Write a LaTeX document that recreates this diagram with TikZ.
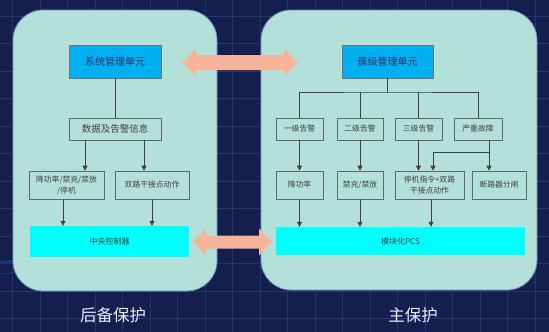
\documentclass[tikz,border=0pt]{standalone}
\usepackage{fontspec}
\setmainfont{Noto Sans CJK SC}
\usetikzlibrary{arrows.meta}

\definecolor{navy}{HTML}{141F4F}
\definecolor{gridc}{HTML}{26366A}
\definecolor{panel}{HTML}{B3E1D9}
\definecolor{panelb}{HTML}{6C8CC4}
\definecolor{unit}{HTML}{00B0F0}
\definecolor{ctrl}{HTML}{00FFFF}
\definecolor{peach}{HTML}{F6B49A}
\definecolor{ink}{HTML}{404040}

\begin{document}
\begin{tikzpicture}[x=1pt,y=-1pt,
  panelbox/.style={draw=panelb,fill=panel,line width=0.8pt,rounded corners=30pt},
  unitbox/.style={draw=black!55,fill=unit,line width=0.5pt,minimum height=33pt,
    text=ink!80!blue,font=\fontsize{10}{11}\selectfont},
  infobox/.style={draw=black!60,fill=panel,line width=0.6pt,inner sep=1pt,
    align=center,text=ink,font=\fontsize{7.8}{11}\selectfont},
  ctrlbox/.style={fill=ctrl,inner sep=0pt,text=ink,font=\fontsize{8}{9}\selectfont},
  flow/.style={draw=black!75,line width=0.6pt},
  arr/.style={flow,-{Triangle[length=5pt,width=5pt]}},
  link/.style={fill=peach},
  caption/.style={text=white!92!blue,font=\fontsize{16.5}{18}\selectfont}]
\useasboundingbox (0,0) rectangle (549,332);
\fill[navy] (0,0) rectangle (549,332);
% background grid
\foreach \gx in {12.5,40,...,549} \draw[gridc,line width=0.5pt] (\gx,0) -- (\gx,332);
\foreach \gy in {16,43.5,...,332} \draw[gridc,line width=0.5pt] (0,\gy) -- (549,\gy);
\draw[blue!45!cyan!60!navy,line width=0.8pt] (0,262) arc[start angle=90,end angle=10,radius=80];
\draw[blue!40!cyan!40!navy,line width=0.5pt] (0,274) arc[start angle=90,end angle=20,radius=70];

% panels
\draw[panelbox] (13,10) rectangle (217,291);
\draw[panelbox] (261,10) rectangle (537,290);

% backup protection
\node[unitbox,minimum width=92pt] (sys) at (115,61.5) {系统管理单元};
\node[infobox,minimum width=92pt,minimum height=22pt,font=\fontsize{9.5}{11}\selectfont] (data) at (115,129) {数据及告警信息};
\node[infobox,minimum width=75pt,minimum height=28pt] (lim) at (66.5,185) {降功率/禁充/禁放\\/停机};
\node[infobox,minimum width=74pt,minimum height=28pt] (dry) at (152,185) {双路干接点动作};
\node[ctrlbox,minimum width=159pt,minimum height=31pt] (cc) at (109.5,241.5) {中央控制器};
\node[caption] (bk) at (113,315) {后备保护};

\draw[flow] (sys.south) -- (data.north);
\draw[arr] ([xshift=-30pt]data.south) -- ([xshift=-30pt]data.south |- lim.north);
\draw[arr] ([xshift=29pt]data.south) -- ([xshift=29pt]data.south |- dry.north);
\draw[arr] ([xshift=-3.5pt]lim.south) -- ([xshift=-3.5pt]lim.south |- cc.north);
\draw[arr] (dry.south) -- (dry.south |- cc.north);

% main protection
\node[unitbox,minimum width=91pt] (bms) at (387.5,61.5) {簇级管理单元};
\node[infobox,minimum width=47pt,minimum height=22pt] (l1) at (299.5,129) {一级告警};
\node[infobox,minimum width=46pt,minimum height=22pt] (l2) at (360,129) {二级告警};
\node[infobox,minimum width=47pt,minimum height=22pt] (l3) at (418.5,129) {三级告警};
\node[infobox,minimum width=48pt,minimum height=22pt] (flt) at (478,129) {严重故障};
\node[infobox,minimum width=47pt,minimum height=28pt] (a1) at (299.5,185) {降功率};
\node[infobox,minimum width=46pt,minimum height=28pt] (a2) at (360,185) {禁充/禁放};
\node[infobox,minimum width=69pt,minimum height=28pt] (a3) at (429.5,185) {停机指令+双路\\干接点动作};
\node[infobox,minimum width=54pt,minimum height=28pt] (a4) at (499,185) {断路器分闸};
\node[ctrlbox,minimum width=249pt,minimum height=28pt] (pcs) at (400.5,241) {模块化PCS};
\node[caption] (mn) at (413,315) {主保护};

\coordinate (bus) at (387.5,92);
\draw[flow] (bms.south) -- (bus);
\draw[flow] (l1.north) |- (bus) -| (flt.north);
\draw[flow] (l2.north) -- (l2.north |- bus);
\draw[flow] (l3.north) -- (l3.north |- bus);
\draw[arr] (l1.south) -- (a1.north);
\draw[arr] (l2.south) -- (a2.north);
\draw[arr] (l3.south) -- (l3.south |- a3.north);
\draw[arr] ([xshift=11pt]flt.south) -- ([xshift=11pt]flt.south |- a4.north);
\coordinate (br) at ([yshift=-12pt]flt.south);
\draw[arr] ([xshift=11pt]br) -| ([xshift=3.5pt]a3.north);
\draw[arr] (a1.south) -- (a1.south |- pcs.north);
\draw[arr] (a2.south) -- (a2.south |- pcs.north);
\draw[arr] ([xshift=1.5pt]a3.south) -- ([xshift=1.5pt]a3.south |- pcs.north);

% links between the two units
\fill[link] (182,62.5) -- (196,49) -- (196,55) -- (284,55) -- (284,49) -- (298,62.5)
  -- (284,76) -- (284,70) -- (196,70) -- (196,76) -- cycle;
\fill[link] (193,242) -- (206,228.5) -- (206,235.5) -- (259,235.5) -- (259,228.5) -- (272,242)
  -- (259,255.5) -- (259,248.5) -- (206,248.5) -- (206,255.5) -- cycle;
\end{tikzpicture}
\end{document}
